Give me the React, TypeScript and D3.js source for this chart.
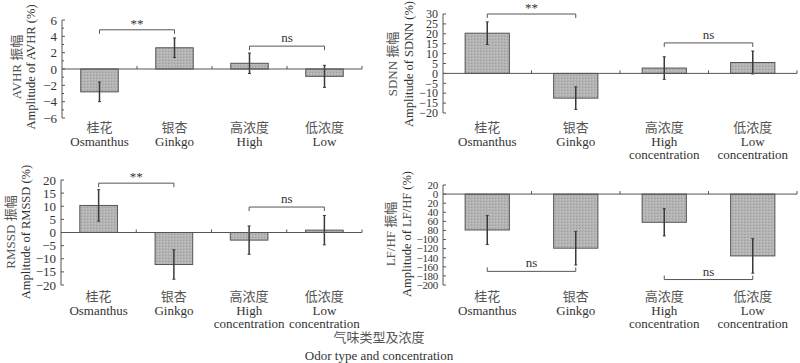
import * as d3 from "d3";
import React from "react";

const categoriesZh = ["桂花", "银杏", "高浓度", "低浓度"];
const categoriesEn = [["Osmanthus"], ["Ginkgo"], ["High", "concentration"], ["Low", "concentration"]];

const avhrMean = [-2.8, 2.6, 0.7, -0.9];
const avhrErr = [1.2, 1.2, 1.25, 1.35];
const avhrTicks = [-6, -4, -2, 0, 2, 4, 6];
const avhrMinor = [-5, -3, -1, 1, 3, 5];

const sdnnMean = [20.3, -12.5, 2.7, 5.5];
const sdnnErr = [5.7, 5.7, 5.7, 5.8];
const sdnnTicks = [-20, -15, -10, -5, 0, 5, 10, 15, 20, 25, 30];

const rmssdMean = [10.3, -12.2, -2.9, 0.9];
const rmssdErr = [6, 5.6, 5.4, 5.6];
const rmssdTicks = [-20, -15, -10, -5, 0, 5, 10, 15, 20];

const lfhfMean = [-79, -119, -62, -136];
const lfhfErr = [32, 37, 30, 38];
const lfhfTicks = [20, 0, -20, -40, -60, -80, -100, -120, -140, -160, -180, -200];
// the printed figure drops the minus sign on the small values
const lfhfTickLabels = ["20", "0", "20", "40", "60", "80", "−100", "−120", "−140", "−160", "−180", "−200"];

type Bracket = { a: number; b: number; level: number; label: string; up?: boolean };

const avhrBrackets: Bracket[] = [
  { a: 0, b: 1, level: 4.8, label: "**" },
  { a: 2, b: 3, level: 2.8, label: "ns" },
];
const sdnnBrackets: Bracket[] = [
  { a: 0, b: 1, level: 30, label: "**" },
  { a: 2, b: 3, level: 15.4, label: "ns" },
];
const rmssdBrackets: Bracket[] = [
  { a: 0, b: 1, level: 18.8, label: "**" },
  { a: 2, b: 3, level: 9.7, label: "ns" },
];
const lfhfBrackets: Bracket[] = [
  { a: 0, b: 1, level: -170, label: "ns", up: true },
  { a: 2, b: 3, level: -188, label: "ns", up: true },
];

const SERIF = "'Liberation Serif', 'Times New Roman', 'Noto Sans CJK SC', serif";
const INK = "#333";
const INK_ZH = "#555";

type PanelProps = {
  x0: number;
  x1: number;
  yTop: number;
  yBottom: number;
  domain: [number, number];
  ticks: number[];
  tickLabels?: string[];
  tickFont?: number;
  minorTicks?: number[];
  means: number[];
  errs: number[];
  brackets: Bracket[];
  nameZh: string;
  nameEn: string;
  labelX: [number, number];
  labelY: number;
  catY: number;
  showThirdLine: boolean;
};

const Panel: React.FC<PanelProps> = (p) => {
  const x = d3
    .scaleBand<number>()
    .domain(d3.range(categoriesZh.length))
    .range([p.x0, p.x1])
    .paddingInner(0.5)
    .paddingOuter(0.25);
  const y = d3.scaleLinear().domain(p.domain).range([p.yBottom, p.yTop]);
  const y0 = y(0);
  const step = x.step();
  const cx = (i: number) => (x(i) ?? 0) + x.bandwidth() / 2;
  const fmt = (v: number) => (v < 0 ? "−" + Math.abs(v) : String(v));

  return (
    <g>
      {/* bars */}
      {p.means.map((m, i) => (
        <rect
          key={"b" + i}
          x={x(i)}
          y={Math.min(y(m), y0)}
          width={x.bandwidth()}
          height={Math.abs(y(m) - y0)}
          fill="url(#dots)"
          stroke="#555"
          strokeWidth={1}
        />
      ))}
      {/* error bars */}
      {p.means.map((m, i) => (
        <g key={"e" + i} stroke="#3a3a3a">
          <line x1={cx(i)} x2={cx(i)} y1={y(m + p.errs[i])} y2={y(m - p.errs[i])} strokeWidth={1.5} />
          <line x1={cx(i) - 1.5} x2={cx(i) + 1.5} y1={y(m + p.errs[i])} y2={y(m + p.errs[i])} />
          <line x1={cx(i) - 1.5} x2={cx(i) + 1.5} y1={y(m - p.errs[i])} y2={y(m - p.errs[i])} />
        </g>
      ))}
      {/* y axis */}
      <line x1={p.x0} x2={p.x0} y1={y(p.domain[1])} y2={y(p.domain[0])} stroke="#555" />
      {p.ticks.map((t, i) => (
        <g key={"t" + i}>
          <line x1={p.x0} x2={p.x0 + 3} y1={y(t)} y2={y(t)} stroke="#555" />
          <text
            x={p.x0 - 5}
            y={y(t)}
            dy="0.35em"
            textAnchor="end"
            fontSize={p.tickFont ?? 13}
            letterSpacing={p.tickFont && p.tickFont < 12 ? -0.3 : 0}
            fontFamily={SERIF}
            fill={INK}
          >
            {p.tickLabels ? p.tickLabels[i] : fmt(t)}
          </text>
        </g>
      ))}
      {(p.minorTicks || []).map((t) => (
        <line key={"m" + t} x1={p.x0} x2={p.x0 + 2} y1={y(t)} y2={y(t)} stroke="#555" />
      ))}
      {/* x axis at zero */}
      <line x1={p.x0} x2={p.x1} y1={y0} y2={y0} stroke="#555" />
      {d3.range(1, categoriesZh.length + 1).map((i) => (
        <line key={"xt" + i} x1={p.x0 + i * step} x2={p.x0 + i * step} y1={y0} y2={y0 - 3} stroke="#555" />
      ))}
      {/* brackets */}
      {p.brackets.map((b, i) => {
        const by = y(b.level);
        const d = b.up ? -4 : 4;
        return (
          <g key={"s" + i}>
            <path
              d={`M${cx(b.a)},${by + d}V${by}H${cx(b.b)}V${by + d}`}
              fill="none"
              stroke="#555"
            />
            <text
              x={(cx(b.a) + cx(b.b)) / 2}
              y={by - (b.label === "**" ? 2 : 4)}
              textAnchor="middle"
              fontSize={13}
              fontFamily={SERIF}
              fill={INK}
            >
              {b.label}
            </text>
          </g>
        );
      })}
      {/* category labels */}
      {categoriesZh.map((c, i) => (
        <text
          key={"c" + i}
          x={cx(i)}
          textAnchor="middle"
          fontSize={13}
          fontFamily={SERIF}
          fill={INK}
        >
          <tspan x={cx(i)} y={p.catY + 4} fill={INK_ZH}>{c}</tspan>
          {categoriesEn[i]
            .filter((_, k) => k === 0 || p.showThirdLine)
            .map((s, k) => (
              <tspan key={k} x={cx(i)} y={p.catY + 18 + k * 12.5}>
                {s}
              </tspan>
            ))}
        </text>
      ))}
      {/* y title */}
      <text
        transform={`translate(${p.labelX[0]},${p.labelY}) rotate(-90)`}
        textAnchor="middle"
        dy="0.35em"
        fontSize={13}
        fontFamily={SERIF}
        fill={INK_ZH}
      >
        {p.nameZh}
      </text>
      <text
        transform={`translate(${p.labelX[1]},${p.labelY}) rotate(-90)`}
        textAnchor="middle"
        dy="0.35em"
        fontSize={12.5}
        fontFamily={SERIF}
        fill={INK}
      >
        {p.nameEn}
      </text>
    </g>
  );
};

export default function App() {
  return (
    <svg
      width={800}
      height={363}
      style={{ position: "absolute", left: 0, top: 0, background: "#fff" }}
    >
      <defs>
        <pattern id="dots" width={3} height={3} patternUnits="userSpaceOnUse">
          <rect width={3} height={3} fill="#b4b4b4" />
          <rect x={0} y={0} width={1} height={1} fill="#9c9c9c" />
          <rect x={2} y={1} width={1} height={1} fill="#c4c4c4" />
        </pattern>
      </defs>
      <Panel
        x0={62}
        x1={362}
        yTop={20}
        yBottom={118}
        domain={[-6, 6]}
        ticks={avhrTicks}
        minorTicks={avhrMinor}
        means={avhrMean}
        errs={avhrErr}
        brackets={avhrBrackets}
        nameZh="AVHR 振幅"
        nameEn="Amplitude of AVHR (%)"
        labelX={[16, 31]}
        labelY={67}
        catY={128}
        showThirdLine={false}
      />
      <Panel
        x0={443}
        x1={797}
        yTop={14}
        yBottom={113}
        domain={[-20, 30]}
        ticks={sdnnTicks}
        tickFont={12}
        means={sdnnMean}
        errs={sdnnErr}
        brackets={sdnnBrackets}
        nameZh="SDNN 振幅"
        nameEn="Amplitude of SDNN (%)"
        labelX={[392, 409]}
        labelY={64}
        catY={128}
        showThirdLine={true}
      />
      <Panel
        x0={61}
        x1={362}
        yTop={180}
        yBottom={285}
        domain={[-20, 20]}
        ticks={rmssdTicks}
        means={rmssdMean}
        errs={rmssdErr}
        brackets={rmssdBrackets}
        nameZh="RMSSD 振幅"
        nameEn="Amplitude of RMSSD (%)"
        labelX={[10, 26]}
        labelY={232}
        catY={297}
        showThirdLine={true}
      />
      <Panel
        x0={443}
        x1={797}
        yTop={185}
        yBottom={285}
        domain={[-200, 20]}
        ticks={lfhfTicks}
        tickLabels={lfhfTickLabels}
        tickFont={11}
        means={lfhfMean}
        errs={lfhfErr}
        brackets={lfhfBrackets}
        nameZh="LF/HF 振幅"
        nameEn="Amplitude of LF/HF (%)"
        labelX={[390, 407]}
        labelY={234}
        catY={297}
        showThirdLine={true}
      />
      <text x={379} y={342} textAnchor="middle" fontSize={13} fontFamily={SERIF} fill={INK_ZH}>
        气味类型及浓度
      </text>
      <text x={379} y={360} textAnchor="middle" fontSize={13} fontFamily={SERIF} fill={INK}>
        Odor type and concentration
      </text>
    </svg>
  );
}
